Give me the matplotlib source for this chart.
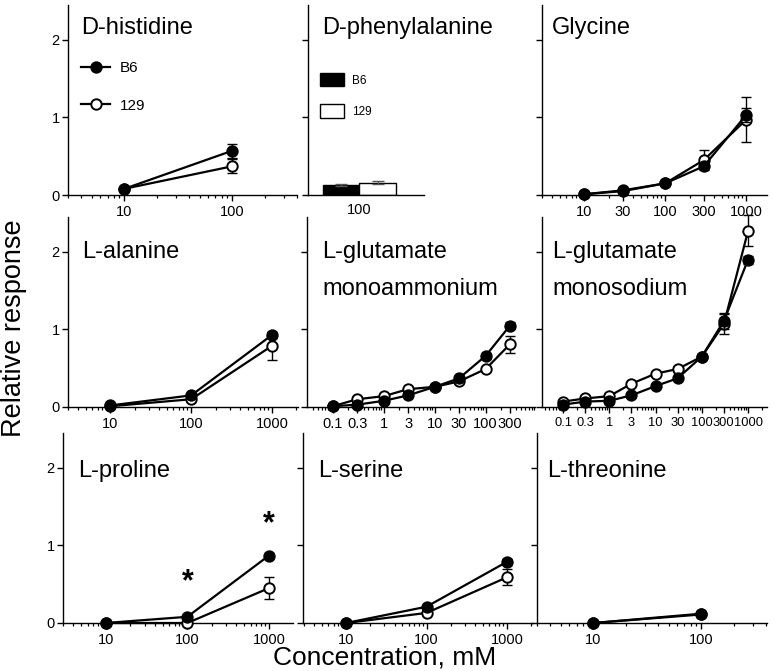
#!/usr/bin/env python3
"""Relative response vs concentration, B6 vs 129, 3x3 panels."""

import matplotlib

matplotlib.use("Agg")
import matplotlib.pyplot as plt
from matplotlib.lines import Line2D
from matplotlib.patches import Patch
from matplotlib.ticker import FixedLocator, LogLocator, NullFormatter
from matplotlib.transforms import blended_transform_factory

plt.rcParams["font.family"] = ["Liberation Sans", "DejaVu Sans"]

# ---- data ----
HIS_X = [10, 100]
HIS_B6 = [0.08, 0.57]
HIS_B6_ERR = [0.01, 0.09]
HIS_129 = [0.08, 0.37]
HIS_129_ERR = [0.01, 0.09]

PHE_LABEL = "100"
PHE_B6 = 0.13
PHE_B6_ERR = 0.01
PHE_129 = 0.16
PHE_129_ERR = 0.015

GLY_X = [10, 30, 100, 300, 1000]
GLY_B6 = [0.01, 0.05, 0.15, 0.37, 1.03]
GLY_B6_ERR = [0.0, 0.01, 0.02, 0.04, 0.09]
GLY_129 = [0.01, 0.06, 0.15, 0.45, 0.97]
GLY_129_ERR = [0.0, 0.01, 0.02, 0.13, 0.29]

ALA_X = [10, 100, 1000]
ALA_B6 = [0.02, 0.15, 0.93]
ALA_B6_ERR = [0.0, 0.02, 0.04]
ALA_129 = [0.01, 0.10, 0.79]
ALA_129_ERR = [0.0, 0.02, 0.18]

GLU_NH4_X = [0.1, 0.3, 1, 3, 10, 30, 100, 300]
GLU_NH4_B6 = [0.01, 0.03, 0.08, 0.15, 0.26, 0.37, 0.66, 1.05]
GLU_NH4_B6_ERR = [0.0, 0.0, 0.01, 0.01, 0.02, 0.02, 0.03, 0.04]
GLU_NH4_129 = [0.01, 0.10, 0.14, 0.23, 0.26, 0.33, 0.49, 0.81]
GLU_NH4_129_ERR = [0.0, 0.01, 0.02, 0.02, 0.02, 0.02, 0.03, 0.11]

GLU_NA_X = [0.1, 0.3, 1, 3, 10, 30, 100, 300, 1000]
GLU_NA_B6 = [0.03, 0.07, 0.08, 0.15, 0.27, 0.37, 0.65, 1.11, 1.90]
GLU_NA_B6_ERR = [0.0, 0.0, 0.0, 0.01, 0.02, 0.02, 0.03, 0.10, 0.05]
GLU_NA_129 = [0.07, 0.11, 0.14, 0.30, 0.43, 0.49, 0.65, 1.07, 2.27]
GLU_NA_129_ERR = [0.0, 0.0, 0.0, 0.02, 0.02, 0.02, 0.03, 0.13, 0.20]

PRO_X = [10, 100, 1000]
PRO_B6 = [0.0, 0.08, 0.87]
PRO_B6_ERR = [0.0, 0.01, 0.03]
PRO_129 = [0.0, 0.0, 0.45]
PRO_129_ERR = [0.0, 0.01, 0.14]
PRO_STAR_X = [100, 1000]
PRO_STAR_Y = [0.42, 1.17]

SER_X = [10, 100, 1000]
SER_B6 = [0.0, 0.21, 0.79]
SER_B6_ERR = [0.0, 0.02, 0.04]
SER_129 = [0.0, 0.13, 0.59]
SER_129_ERR = [0.0, 0.02, 0.10]

THR_X = [10, 100]
THR_B6 = [0.0, 0.12]
THR_B6_ERR = [0.0, 0.02]
THR_129 = [0.0, 0.11]
THR_129_ERR = [0.0, 0.03]

# ---- layout in pixels ----
W, H = 774, 671
ROW_BOTTOM = [195, 407, 623]
AX_H = 190
YMAX = 2.45
# (left px, right px, xlim) per panel, row-major
PANEL_BOX = [
    (68, 297, (3, 400)), (308, 424, (-0.7, 0.88)), (542, 767, (3, 1815)),
    (68, 298, (3, 2090)), (307, 535, (0.031, 930)), (542, 767, (0.035, 2570)),
    (63, 293, (3, 1970)), (303, 533, (2.92, 2100)), (537, 767, (3, 408)),
]
TITLE_DX = [13, 14, 10, 14, 15, 10, 15, 15, 10]
TITLE_Y = [2.08, 1.92, 1.88]
TITLE_LINE = 0.475
TICK_FS = [10.5, 10.5, 10.5, 10.5, 10.5, 9.3, 10.5, 10.5, 10.5]

LW = 1.6
MS = 7.5


def style_axes(ax, col, fs):
    for s in ("top", "right"):
        ax.spines[s].set_visible(False)
    for s in ("left", "bottom"):
        ax.spines[s].set_linewidth(1.0)
    ax.set_ylim(0, YMAX)
    ax.set_yticks([0, 1, 2])
    if col == 0:
        ax.set_yticklabels(["0", "1", "2"])
    else:
        ax.tick_params(axis="y", labelleft=False)
    ax.tick_params(which="major", direction="out", length=4, width=1.0,
                   labelsize=10.5, pad=2)
    ax.tick_params(axis="x", labelsize=fs, pad=3)
    ax.tick_params(which="minor", direction="out", length=2.5, width=0.9)


def line_panel(ax, x, b6, b6e, s129, s129e):
    ax.set_xscale("log")
    for y, e, fill, z in ((s129, s129e, "white", 3), (b6, b6e, "black", 5)):
        ax.errorbar(x, y, yerr=e, fmt="none", ecolor="black", elinewidth=1.0,
                    capsize=3.5, capthick=1.0, zorder=z - 1, clip_on=False)
        ax.plot(x, y, "-o", color="black", lw=LW, ms=MS, mfc=fill,
                mec="black", mew=1.4, zorder=z, clip_on=False)
    ax.xaxis.set_major_locator(FixedLocator(x))
    ax.set_xticklabels([f"{v:g}" for v in x])
    ax.xaxis.set_minor_locator(LogLocator(base=10, subs=range(2, 10), numticks=30))
    ax.xaxis.set_minor_formatter(NullFormatter())


def main() -> None:
    fig = plt.figure(figsize=(W / 100, H / 100), dpi=100)

    line_data = {
        0: (HIS_X, HIS_B6, HIS_B6_ERR, HIS_129, HIS_129_ERR),
        2: (GLY_X, GLY_B6, GLY_B6_ERR, GLY_129, GLY_129_ERR),
        3: (ALA_X, ALA_B6, ALA_B6_ERR, ALA_129, ALA_129_ERR),
        4: (GLU_NH4_X, GLU_NH4_B6, GLU_NH4_B6_ERR, GLU_NH4_129, GLU_NH4_129_ERR),
        5: (GLU_NA_X, GLU_NA_B6, GLU_NA_B6_ERR, GLU_NA_129, GLU_NA_129_ERR),
        6: (PRO_X, PRO_B6, PRO_B6_ERR, PRO_129, PRO_129_ERR),
        7: (SER_X, SER_B6, SER_B6_ERR, SER_129, SER_129_ERR),
        8: (THR_X, THR_B6, THR_B6_ERR, THR_129, THR_129_ERR),
    }
    titles = [
        ["D-histidine"], ["D-phenylalanine"], ["Glycine"],
        ["L-alanine"], ["L-glutamate", "monoammonium"], ["L-glutamate", "monosodium"],
        ["L-proline"], ["L-serine"], ["L-threonine"],
    ]

    axes = []
    for i, (left, right, xlim) in enumerate(PANEL_BOX):
        row, col = divmod(i, 3)
        bottom = ROW_BOTTOM[row]
        ax = fig.add_axes([left / W, 1 - bottom / H, (right - left) / W, AX_H / H])
        axes.append(ax)
        style_axes(ax, col, TICK_FS[i])
        if i in line_data:
            line_panel(ax, *line_data[i])
        ax.set_xlim(*xlim)
        tr = blended_transform_factory(ax.transAxes, ax.transData)
        for k, line in enumerate(titles[i]):
            ax.text(TITLE_DX[i] / (right - left), TITLE_Y[row] - k * TITLE_LINE, line,
                    transform=tr, fontsize=17, ha="left", va="baseline",
                    clip_on=False)

    # D-phenylalanine bars
    ax = axes[1]
    ax.bar([-0.25], [PHE_B6], width=0.5, color="black", edgecolor="black",
           linewidth=1.0, zorder=2)
    ax.bar([0.25], [PHE_129], width=0.5, color="white", edgecolor="black",
           linewidth=1.0, zorder=2)
    ax.errorbar([-0.25, 0.25], [PHE_B6, PHE_129], yerr=[PHE_B6_ERR, PHE_129_ERR],
                fmt="none", ecolor="#555555", elinewidth=0.9, capsize=4, zorder=3)
    ax.set_xticks([0])
    ax.set_xticklabels([PHE_LABEL])
    ax.tick_params(axis="x", length=0, pad=6)
    ax.legend(handles=[Patch(facecolor="black", edgecolor="black", label="B6"),
                       Patch(facecolor="white", edgecolor="black", label="129")],
              loc="upper left", bbox_to_anchor=(320 / W, 1 - 73 / H),
              bbox_transform=fig.transFigure, frameon=False, fontsize=8.5,
              handlelength=2.0, handleheight=1.35, handletextpad=0.7,
              labelspacing=1.5, borderpad=0, borderaxespad=0)

    # line legend in D-histidine
    axes[0].legend(handles=[
        Line2D([], [], color="black", lw=LW, marker="o", ms=MS, mfc="black",
               mec="black", mew=1.4, label="B6"),
        Line2D([], [], color="black", lw=LW, marker="o", ms=MS, mfc="white",
               mec="black", mew=1.4, label="129")],
        loc="upper left", bbox_to_anchor=(81 / W, 1 - 61 / H),
        bbox_transform=fig.transFigure, frameon=False, fontsize=11,
        handlelength=1.9, handletextpad=0.65, labelspacing=1.55,
        borderpad=0, borderaxespad=0)

    # significance marks for L-proline
    for sx, sy in zip(PRO_STAR_X, PRO_STAR_Y):
        axes[6].text(sx, sy, "*", fontsize=22, fontweight="bold",
                     ha="center", va="baseline")

    fig.text(1 / W, 1 - 328 / H, "Relative response", rotation=90,
             fontsize=19.5, ha="left", va="center")
    fig.text(385 / W, 6 / H, "Concentration, mM", fontsize=19,
             ha="center", va="baseline")

    fig.savefig("out.png", dpi=100)
    plt.close(fig)


if __name__ == "__main__":
    main()
